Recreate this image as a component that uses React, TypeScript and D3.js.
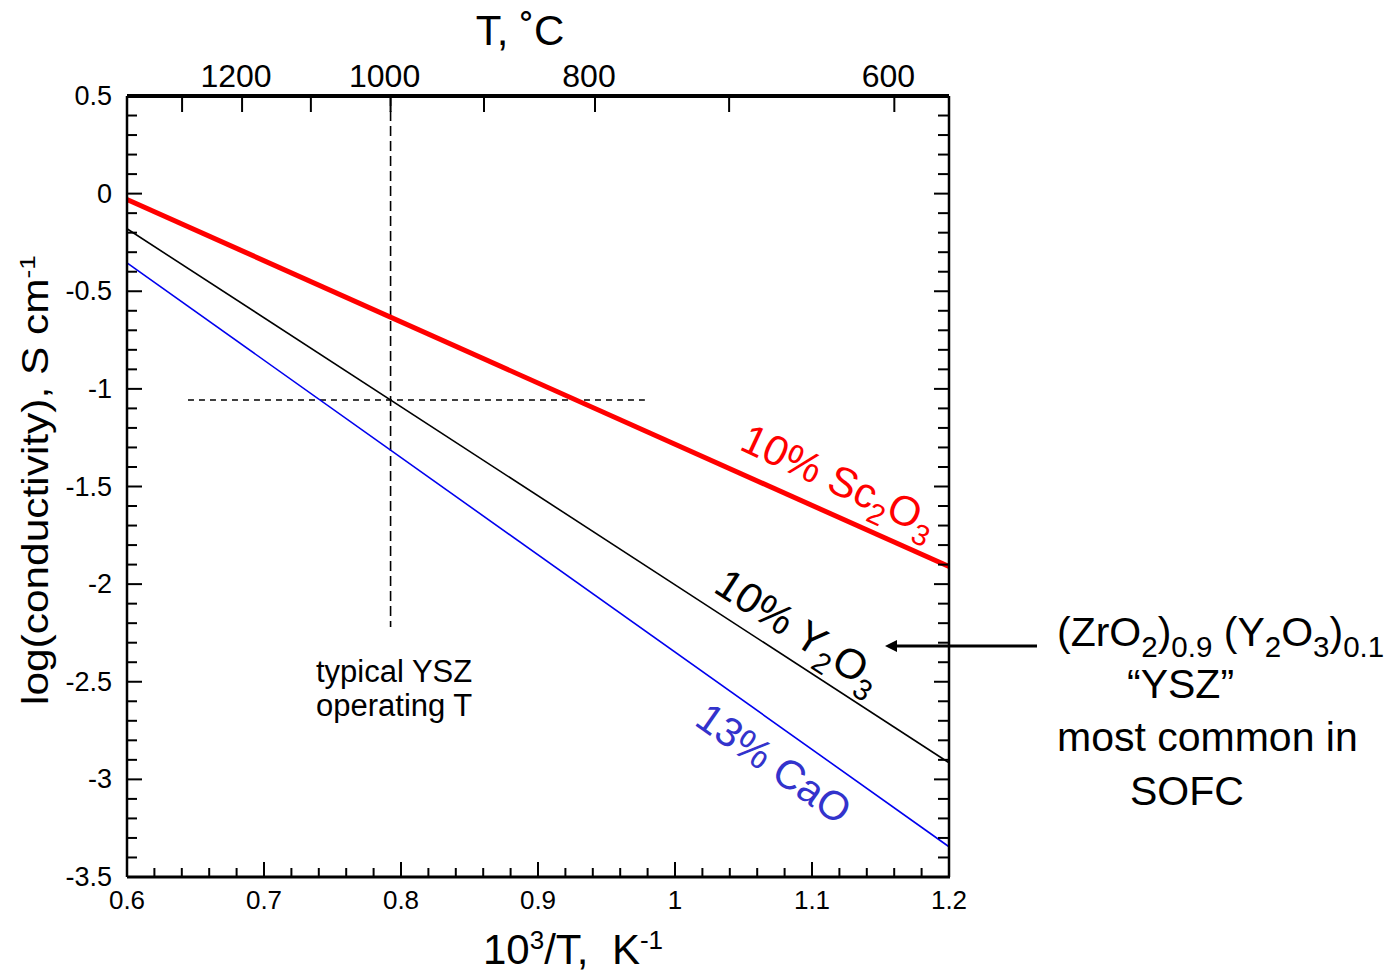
import React from 'react';
import * as d3 from 'd3';

// overall size of the picture and the plot box inside it
const W = 1397, H = 973;
const plot = { left: 127, right: 949, top: 96, bottom: 877 };
const FONT = '"Liberation Sans", Arial, sans-serif';

// data: log(conductivity) at the two ends of the 1000/T range (straight Arrhenius lines)
const invT = [0.6, 1.2];
const sc2o3 = [-0.03, -1.91];
const y2o3 = [-0.18, -2.915];
const cao = [-0.355, -3.345];

// axis ticks
const xMajor = [0.6, 0.7, 0.8, 0.9, 1, 1.1, 1.2];
const yMajor = [0.5, 0, -0.5, -1, -1.5, -2, -2.5, -3, -3.5];
const celsiusTicks = [1300, 1200, 1100, 1000, 900, 800, 700, 600];
const celsiusLabels = [1200, 1000, 800, 600];
const kelvinShift = 262; // offset the original top axis was drawn with

// guide lines
const operatingC = 1000;
const operatingLog = -1.057;
const hGuide = [0.6445, 0.978];
const vGuideEnd = -2.22;

type Part = { t: string; sub?: boolean; sup?: boolean };

function Rich({ parts, size, small = 0.7 }: { parts: Part[]; size: number; small?: number }) {
  const out: any[] = [];
  let shift = 0;
  parts.forEach((p, i) => {
    const target = p.sub ? size * 0.26 : p.sup ? -size * 0.36 : 0;
    out.push(
      <tspan key={i} dy={target - shift} fontSize={p.sub || p.sup ? size * small : size}>
        {p.t}
      </tspan>
    );
    shift = target;
  });
  return <>{out}</>;
}

export default function App() {
  const x = d3.scaleLinear().domain([0.6, 1.2]).range([plot.left, plot.right]);
  const y = d3.scaleLinear().domain([-3.5, 0.5]).range([plot.bottom, plot.top]);
  const cToX = (c: number) => x(1000 / (c + kelvinShift));

  const xMinor = d3.ticks(0.6, 1.2, 30);
  const yMinor = d3.ticks(-3.5, 0.5, 40);
  const isMajorX = (v: number) => xMajor.some((m) => Math.abs(m - v) < 1e-6);
  const isMajorY = (v: number) => yMajor.some((m) => Math.abs(m - v) < 1e-6);

  const line = d3.line<number>().x((_, i) => x(invT[i])).y((d) => y(d));

  const series = [
    { vals: sc2o3, color: '#ff0000', width: 5 },
    { vals: y2o3, color: '#000000', width: 1.6 },
    { vals: cao, color: '#0000ee', width: 1.6 },
  ];

  const vx = cToX(operatingC);

  return (
    <svg width={W} height={H} style={{ position: 'absolute', left: 0, top: 0, background: '#fff' }} fontFamily={FONT}>
      {/* guide lines */}
      <line x1={vx} x2={vx} y1={plot.top} y2={y(vGuideEnd)} stroke="#000" strokeWidth={1.6} strokeDasharray="10,5" />
      <line x1={x(hGuide[0])} x2={x(hGuide[1])} y1={y(operatingLog)} y2={y(operatingLog)} stroke="#000" strokeWidth={1.6} strokeDasharray="6,5" />

      {/* series */}
      {series.map((s, i) => (
        <path key={i} d={line(s.vals) || ''} fill="none" stroke={s.color} strokeWidth={s.width} />
      ))}

      {/* frame */}
      <line x1={plot.left} x2={plot.right} y1={plot.top} y2={plot.top} stroke="#000" strokeWidth={4} />
      <line x1={plot.left} x2={plot.right + 1} y1={plot.bottom} y2={plot.bottom} stroke="#000" strokeWidth={3} />
      <line x1={plot.left} x2={plot.left} y1={plot.top} y2={plot.bottom} stroke="#000" strokeWidth={2.5} />
      <line x1={plot.right} x2={plot.right} y1={plot.top} y2={plot.bottom} stroke="#000" strokeWidth={2.5} />

      {/* bottom ticks */}
      {xMinor.map((v) => (
        <line key={'bx' + v} x1={x(v)} x2={x(v)} y1={plot.bottom} y2={plot.bottom - (isMajorX(v) ? 15 : 9)} stroke="#000" strokeWidth={2} />
      ))}
      {xMajor.map((v) => (
        <text key={'bl' + v} x={x(v)} y={909} textAnchor="middle" fontSize={26}>{String(v)}</text>
      ))}

      {/* left + right ticks */}
      {yMinor.map((v) => (
        <g key={'y' + v}>
          <line x1={plot.left} x2={plot.left + (isMajorY(v) ? 15 : 10)} y1={y(v)} y2={y(v)} stroke="#000" strokeWidth={2} />
          <line x1={plot.right} x2={plot.right - (isMajorY(v) ? 15 : 11)} y1={y(v)} y2={y(v)} stroke="#000" strokeWidth={2} />
        </g>
      ))}
      {yMajor.map((v) => (
        <text key={'yl' + v} x={112} y={y(v) + 9} textAnchor="end" fontSize={27}>{String(v)}</text>
      ))}

      {/* top Celsius axis */}
      {celsiusTicks.map((c) => (
        <line key={'t' + c} x1={cToX(c)} x2={cToX(c)} y1={plot.top} y2={plot.top + 16} stroke="#000" strokeWidth={2} />
      ))}
      {celsiusLabels.map((c) => (
        <text key={'tl' + c} x={cToX(c) - 6} y={87} textAnchor="middle" fontSize={32}>{String(c)}</text>
      ))}

      {/* axis titles */}
      <text x={520} y={45} textAnchor="middle" fontSize={42}>T, ˚C</text>
      <text x={483} y={964} fontSize={42} style={{ whiteSpace: 'pre' }}>
        <Rich size={42} small={0.62} parts={[{ t: '10' }, { t: '3', sup: true }, { t: '/T,  K' }, { t: '-1', sup: true }]} />
      </text>
      <text transform="translate(48,480) rotate(-90)" textAnchor="middle" fontSize={36} textLength={450} lengthAdjust="spacingAndGlyphs">
        <Rich size={36} small={0.62} parts={[{ t: 'log(conductivity), S cm' }, { t: '-1', sup: true }]} />
      </text>

      {/* line labels */}
      <text transform="translate(738,449) rotate(25)" fontSize={42} fill="#ff0000">
        <Rich size={42} parts={[{ t: '10% Sc' }, { t: '2', sub: true }, { t: 'O' }, { t: '3', sub: true }]} />
      </text>
      <text transform="translate(712,591) rotate(33)" fontSize={42} fill="#000">
        <Rich size={42} parts={[{ t: '10% Y' }, { t: '2', sub: true }, { t: 'O' }, { t: '3', sub: true }]} />
      </text>
      <text transform="translate(693,724) rotate(35)" fontSize={41} fill="#3333cc">
        13% CaO
      </text>

      <text x={316} y={682} fontSize={31}>typical YSZ</text>
      <text x={316} y={716} fontSize={31}>operating T</text>

      {/* right-hand annotation with arrow */}
      <line x1={1037} x2={896} y1={646} y2={646} stroke="#000" strokeWidth={3} />
      <path d="M885,646 L897,640 L897,652 Z" fill="#000" />
      <text x={1057} y={646} fontSize={41}>
        <Rich size={41} small={0.72} parts={[{ t: '(ZrO' }, { t: '2', sub: true }, { t: ')' }, { t: '0.9', sub: true }, { t: ' (Y' }, { t: '2', sub: true }, { t: 'O' }, { t: '3', sub: true }, { t: ')' }, { t: '0.1', sub: true }]} />
      </text>
      <text x={1127} y={698} fontSize={41}>“YSZ”</text>
      <text x={1057} y={751} fontSize={41}>most common in</text>
      <text x={1130} y={805} fontSize={41}>SOFC</text>
    </svg>
  );
}
